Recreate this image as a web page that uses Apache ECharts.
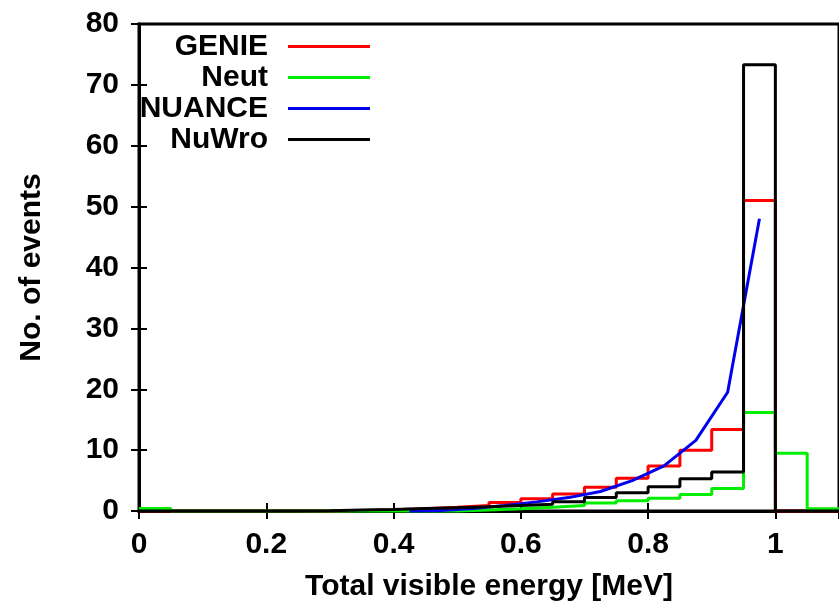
<!DOCTYPE html>
<html>
<head>
<meta charset="utf-8">
<script src="https://cdn.jsdelivr.net/npm/echarts@6/dist/echarts.min.js"></script>
<style>
html,body{margin:0;padding:0;background:#fff;}
#main{width:839px;height:607px;}
</style>
</head>
<body>
<div id="main"></div>
<script>
// Bin left edges (MeV), bin width 0.05
var binStart = [0,0.05,0.1,0.15,0.2,0.25,0.3,0.35,0.4,0.45,0.5,0.55,0.6,0.65,0.7,0.75,0.8,0.85,0.9,0.95,1.0,1.05];
var binEnd = 1.1;
var genie = [0,0,0,0,0,0,0.1,0.2,0.35,0.6,0.9,1.4,2.0,2.8,3.9,5.4,7.4,10.0,13.4,51.0,0,0];
var neut  = [0.4,0,0,0,0,0,0,0,0,0,0.15,0.35,0.6,0.9,1.3,1.7,2.1,2.7,3.7,16.2,9.5,0.35];
var nuwro = [0,0,0,0,0,0.05,0.15,0.25,0.4,0.55,0.7,0.9,1.1,1.5,2.2,3.0,4.0,5.3,6.4,73.3,0,0];
var nuanceX = [0.425,0.475,0.525,0.575,0.625,0.675,0.725,0.775,0.825,0.875,0.925,0.975];
var nuanceY = [0,0.1,0.4,0.9,1.5,2.2,3.2,5.0,7.4,11.6,19.5,48.0];
var xTicks = [0,0.2,0.4,0.6,0.8,1];
var yTicks = [0,10,20,30,40,50,60,70,80];
var seriesNames = ['GENIE','Neut','NUANCE','NuWro'];
var seriesColors = ['#ff0000','#00ee00','#0000ee','#000000'];

function stepData(vals){
  var d = binStart.map(function(x,i){ return [x, vals[i]]; });
  d.push([binEnd, vals[vals.length-1]]);
  return d;
}
var nuanceData = nuanceX.map(function(x,i){ return [x, nuanceY[i]]; });

var FONT = 'Liberation Sans';
var lbl = {fontFamily: FONT, fontWeight: 'bold', fontSize: 30, color: '#000'};

var chart = echarts.init(document.getElementById('main'), null, {renderer: 'canvas'});
chart.setOption({
  animation: false,
  backgroundColor: '#fff',
  grid: {left: 139, top: 24, width: 705, bottom: 96, show: true, borderColor: '#000', borderWidth: 3, backgroundColor: 'transparent'},
  legend: {
    orient: 'vertical',
    left: 128, top: 31, padding: 0,
    align: 'right',
    itemWidth: 82, itemHeight: 3, itemGap: 0,
    icon: 'rect',
    data: seriesNames,
    textStyle: {fontFamily: FONT, fontWeight: 'bold', fontSize: 30, color: '#000', width: 140, align: 'right', lineHeight: 31, padding: [0, 15, 0, 0]}
  },
  xAxis: [{
    type: 'value', min: 0, max: 1.1, interval: 0.2, position: 'bottom',
    name: 'Total visible energy [MeV]', nameLocation: 'middle', nameGap: 61,
    nameTextStyle: lbl,
    axisLine: {show: true, lineStyle: {color: '#000', width: 3}},
    axisTick: {show: true, inside: true, length: 8, lineStyle: {color: '#000', width: 2}},
    axisLabel: {show: true, margin: 19, showMaxLabel: false, fontFamily: FONT, fontWeight: 'bold', fontSize: 30, color: '#000',
      formatter: function(v){ var r = Math.round(v*10)/10; return xTicks.indexOf(r) >= 0 ? String(r) : ''; }},
    splitLine: {show: false}
  },{
    type: 'value', min: 0, max: 1.1, interval: 0.2, position: 'top',
    axisLine: {show: true, lineStyle: {color: '#000', width: 3}},
    axisTick: {show: true, inside: true, length: 8, lineStyle: {color: '#000', width: 2}},
    axisLabel: {show: false}, splitLine: {show: false}
  }],
  yAxis: [{
    type: 'value', min: 0, max: 80, interval: 10, position: 'left',
    name: 'No. of events', nameLocation: 'middle', nameGap: 92, nameRotate: 90,
    nameTextStyle: lbl,
    axisLine: {show: true, lineStyle: {color: '#000', width: 3}},
    axisTick: {show: true, inside: true, length: 8, lineStyle: {color: '#000', width: 2}},
    axisLabel: {show: true, margin: 20, fontFamily: FONT, fontWeight: 'bold', fontSize: 30, color: '#000',
      formatter: function(v){ return yTicks.indexOf(v) >= 0 ? String(v) : ''; }},
    splitLine: {show: false}
  },{
    type: 'value', min: 0, max: 80, interval: 10, position: 'right',
    axisLine: {show: true, lineStyle: {color: '#000', width: 3}},
    axisTick: {show: true, inside: true, length: 8, lineStyle: {color: '#000', width: 2}},
    axisLabel: {show: false}, splitLine: {show: false}
  }],
  series: [
    {name: seriesNames[0], type: 'line', step: 'end', data: stepData(genie), symbol: 'none', clip: false,
     lineStyle: {color: seriesColors[0], width: 3}, itemStyle: {color: seriesColors[0]}},
    {name: seriesNames[1], type: 'line', step: 'end', data: stepData(neut), symbol: 'none', clip: false,
     lineStyle: {color: seriesColors[1], width: 3}, itemStyle: {color: seriesColors[1]}},
    {name: seriesNames[2], type: 'line', data: nuanceData, symbol: 'none', clip: false,
     lineStyle: {color: seriesColors[2], width: 3}, itemStyle: {color: seriesColors[2]}},
    {name: seriesNames[3], type: 'line', step: 'end', data: stepData(nuwro), symbol: 'none', clip: false,
     lineStyle: {color: seriesColors[3], width: 3}, itemStyle: {color: seriesColors[3]}}
  ]
});
</script>
</body>
</html>
